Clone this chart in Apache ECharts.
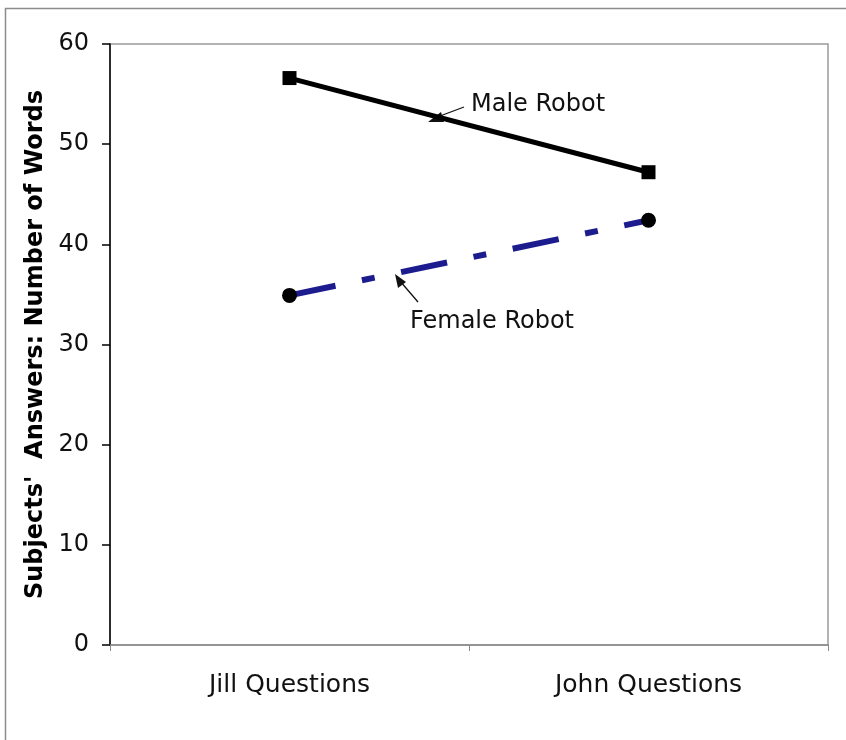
<!DOCTYPE html>
<html>
<head>
<meta charset="utf-8">
<script src="https://cdn.jsdelivr.net/npm/echarts@6/dist/echarts.min.js"></script>
<style>
  html, body { margin: 0; padding: 0; background: #fff; }
  #chart { width: 846px; height: 740px; }
</style>
</head>
<body>
<div id="chart"></div>
<script>
// Question sets on the x axis
const categories = ['Jill Questions', 'John Questions'];
// Mean number of words in subjects' answers
const maleRobot = [56.6, 47.2];
const femaleRobot = [34.9, 42.4];
// Value axis ticks
const yTicks = [0, 10, 20, 30, 40, 50, 60];

const FONT = 'DejaVu Sans';
const chart = echarts.init(document.getElementById('chart'));

chart.setOption({
  animation: false,
  backgroundColor: '#fff',
  grid: {
    left: 110, right: 18, top: 44, bottom: 95,
    show: true, borderColor: '#9a9a9a', borderWidth: 1.5
  },
  xAxis: {
    type: 'category',
    data: categories,
    boundaryGap: true,
    axisLine: { lineStyle: { color: '#8a8a8a', width: 1.5 } },
    axisTick: { show: true, length: 6, lineStyle: { color: '#8a8a8a' } },
    axisLabel: { fontFamily: FONT, fontSize: 25, color: '#111', margin: 28 },
    splitLine: { show: false }
  },
  yAxis: {
    type: 'value',
    min: yTicks[0],
    max: yTicks[yTicks.length - 1],
    interval: 10,
    name: "Subjects'  Answers: Number of Words",
    nameLocation: 'middle',
    nameGap: 61,
    nameTextStyle: { fontFamily: FONT, fontSize: 24, fontWeight: 'bold', color: '#000' },
    axisLine: { show: true, lineStyle: { color: '#000', width: 1.5 } },
    axisTick: { show: true, length: 8, lineStyle: { color: '#000', width: 1.5 } },
    axisLabel: { fontFamily: FONT, fontSize: 24, color: '#111', margin: 21, padding: [3, 0, 0, 0] },
    splitLine: { show: false }
  },
  series: [
    {
      name: 'Male Robot',
      type: 'line',
      data: maleRobot,
      symbol: 'rect',
      symbolSize: 14,
      itemStyle: { color: '#000' },
      lineStyle: { color: '#000', width: 5 }
    },
    {
      name: 'Female Robot',
      type: 'line',
      data: femaleRobot,
      symbol: 'circle',
      symbolSize: 15,
      itemStyle: { color: '#000' },
      lineStyle: { color: '#1c1c8f', width: 6, type: [47, 27, 13, 27], cap: 'butt' },
      z: 1
    }
  ],
  graphic: [
    // page frame
    { type: 'rect', shape: { x: 5.5, y: 8.5, width: 860, height: 760 },
      style: { fill: 'none', stroke: '#8c8c8c', lineWidth: 1.5 }, silent: true, z: -1 },
    // Male Robot callout
    { type: 'text', left: 471, top: 93,
      style: { text: 'Male Robot', font: '24px "' + FONT + '"', fill: '#111' } },
    { type: 'line', shape: { x1: 464, y1: 107, x2: 440, y2: 116 },
      style: { stroke: '#111', lineWidth: 1.3 } },
    { type: 'polygon', shape: { points: [[428, 122], [441, 112], [444, 122]] },
      style: { fill: '#111' } },
    // Female Robot callout
    { type: 'text', left: 410, top: 310,
      style: { text: 'Female Robot', font: '24px "' + FONT + '"', fill: '#111' } },
    { type: 'line', shape: { x1: 418, y1: 302, x2: 400, y2: 281 },
      style: { stroke: '#111', lineWidth: 1.3 } },
    { type: 'polygon', shape: { points: [[395, 274], [406, 282], [398, 288]] },
      style: { fill: '#111' } }
  ]
});
</script>
</body>
</html>
